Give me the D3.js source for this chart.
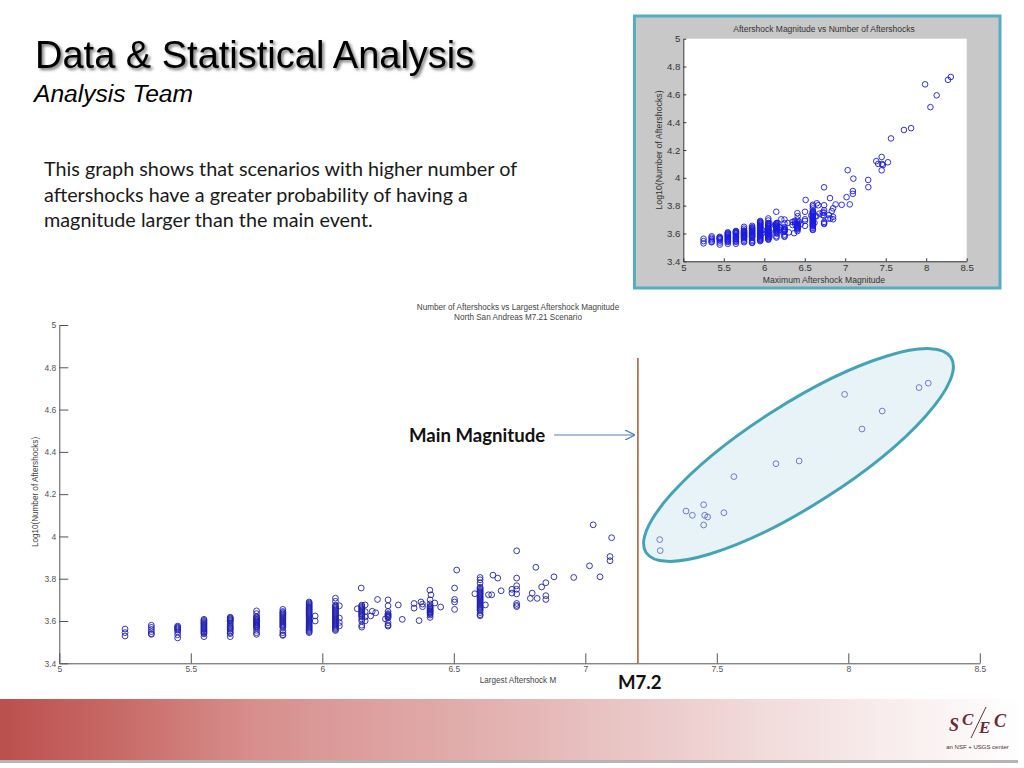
<!DOCTYPE html>
<html>
<head>
<meta charset="utf-8">
<title>Data & Statistical Analysis</title>
<script src="https://cdn.jsdelivr.net/npm/d3@7"></script>
<style>
html, body { margin: 0; padding: 0; background: #fff; overflow: hidden; }
svg { display: block; }
</style>
</head>
<body>
<script>
"use strict";
// columns of scenarios that share one rounded magnitude
var stack_magnitudes = [5.25, 5.35, 5.45, 5.55, 5.65, 5.75, 5.85, 5.95, 6.05, 6.15, 6.25, 6.41, 6.6];
var stack_log_counts = [
    [3.562, 3.545, 3.529],
    [3.58, 3.57, 3.56, 3.55, 3.54, 3.537],
    [3.576, 3.571, 3.567, 3.562, 3.557, 3.548, 3.535, 3.52],
    [3.608, 3.603, 3.598, 3.593, 3.589, 3.584, 3.579, 3.574, 3.569, 3.564, 3.559, 3.554, 3.549, 3.544, 3.539, 3.526],
    [3.618, 3.614, 3.61, 3.606, 3.602, 3.598, 3.59, 3.583, 3.575, 3.57, 3.565, 3.56, 3.553, 3.545, 3.54, 3.526],
    [3.648, 3.635, 3.622, 3.618, 3.613, 3.608, 3.604, 3.6, 3.596, 3.592, 3.588, 3.584, 3.58, 3.576, 3.572, 3.566, 3.556, 3.545, 3.537],
    [3.655, 3.645, 3.64, 3.635, 3.63, 3.625, 3.62, 3.615, 3.61, 3.605, 3.6, 3.595, 3.59, 3.585, 3.58, 3.575, 3.57, 3.555, 3.545, 3.535, 3.532],
    [3.69, 3.685, 3.68, 3.675, 3.67, 3.665, 3.66, 3.655, 3.65, 3.645, 3.64, 3.635, 3.63, 3.625, 3.62, 3.615, 3.61, 3.605, 3.6, 3.595, 3.59, 3.585, 3.58, 3.575, 3.57, 3.565, 3.56, 3.555, 3.55, 3.545],
    [3.708, 3.693, 3.675, 3.67, 3.665, 3.66, 3.655, 3.65, 3.645, 3.64, 3.635, 3.63, 3.625, 3.62, 3.615, 3.61, 3.605, 3.6, 3.595, 3.59, 3.585, 3.58, 3.575, 3.57, 3.565, 3.56, 3.555],
    [3.675, 3.67, 3.665, 3.66, 3.655, 3.65, 3.645, 3.64, 3.635, 3.63, 3.625, 3.62, 3.61, 3.6, 3.58, 3.571],
    [3.7, 3.672, 3.645, 3.635, 3.631, 3.627, 3.623, 3.619, 3.615, 3.592, 3.581, 3.576],
    [3.7, 3.681, 3.67, 3.666, 3.662, 3.658, 3.654, 3.65, 3.646, 3.642, 3.638, 3.634, 3.628, 3.617],
    [3.806, 3.795, 3.78, 3.76, 3.755, 3.75, 3.745, 3.74, 3.735, 3.73, 3.725, 3.72, 3.715, 3.71, 3.705, 3.7, 3.695, 3.69, 3.685, 3.68, 3.675, 3.67, 3.665, 3.66, 3.655, 3.65, 3.64, 3.63, 3.625]
];
// scenarios that sit away from the columns
var scatter_magnitudes = [
    5.973, 5.973, 6.065, 6.065, 6.065, 6.065, 6.133, 6.148, 6.163, 6.163, 6.163, 6.163,
    6.184, 6.19, 6.203, 6.21, 6.24, 6.289, 6.304, 6.349, 6.349, 6.368, 6.375, 6.381, 6.381,
    6.409, 6.413, 6.428, 6.45, 6.503, 6.503, 6.503, 6.503, 6.511, 6.58, 6.62, 6.632, 6.644,
    6.649, 6.667, 6.68, 6.721, 6.721, 6.739, 6.739, 6.739, 6.739, 6.739, 6.739, 6.739, 6.739,
    6.791, 6.798, 6.812, 6.817, 6.834, 6.85, 6.85, 6.85, 6.881, 6.956, 7.016, 7.03, 7.056,
    7.094, 7.094, 7.1, 7.283, 7.285, 7.383, 7.407, 7.45, 7.45, 7.454, 7.465, 7.527, 7.565,
    7.725, 7.813, 7.986, 8.052, 8.129, 8.269, 8.304
];
var scatter_log_counts = [
    3.624, 3.6, 3.672, 3.614, 3.593, 3.577, 3.658, 3.756, 3.676, 3.644, 3.62, 3.601,
    3.624, 3.646, 3.639, 3.702, 3.61, 3.676, 3.608, 3.683, 3.661, 3.602, 3.69, 3.68, 3.668,
    3.746, 3.724, 3.685, 3.666, 3.756, 3.702, 3.69, 3.655, 3.841, 3.729, 3.676, 3.724, 3.724,
    3.817, 3.803, 3.743, 3.75, 3.732, 3.932, 3.803, 3.767, 3.75, 3.728, 3.683, 3.674, 3.668,
    3.707, 3.732, 3.854, 3.707, 3.761, 3.781, 3.72, 3.702, 3.809, 3.806, 3.861, 4.055, 3.809,
    3.905, 3.885, 3.994, 3.985, 3.933, 4.12, 4.1, 4.15, 4.054, 4.1, 4.092, 4.112, 4.283,
    4.344, 4.357, 4.672, 4.508, 4.593, 4.704, 4.725
];
var x_ticks = [5, 5.5, 6, 6.5, 7, 7.5, 8, 8.5];
var y_ticks = [3.4, 3.6, 3.8, 4, 4.2, 4.4, 4.6, 4.8, 5];
var main_magnitude = 7.2;
var body_lines = [
    "This graph shows that scenarios with higher number of",
    "aftershocks have a greater probability of having a",
    "magnitude larger than the main event."
];

var points = [];
stack_magnitudes.forEach(function(m, i)
{
    stack_log_counts[i].forEach(function(v) { points.push([m, v]); });
});
scatter_magnitudes.forEach(function(m, i)
{
    points.push([m, scatter_log_counts[i]]);
});

var svg = d3.select("body").append("svg").attr("width", 1024).attr("height", 768);
var defs = svg.append("defs");

var title_shadow = defs.append("filter").attr("id", "title_shadow")
    .attr("x", "-5%").attr("y", "-20%").attr("width", "110%").attr("height", "150%");
title_shadow.append("feDropShadow").attr("dx", 2).attr("dy", 2).attr("stdDeviation", 1.5)
    .attr("flood-color", "#000").attr("flood-opacity", 0.55);

var band = defs.append("linearGradient").attr("id", "band");
[[0, "#bb504e"], [0.1, "#c66663"], [0.25, "#d78f8d"], [0.5, "#e3b4b3"], [0.75, "#f2dcdc"], [1, "#ffffff"]]
    .forEach(function(s)
    {
        band.append("stop").attr("offset", s[0]).attr("stop-color", s[1]);
    });

defs.append("marker").attr("id", "arrow_head")
    .attr("viewBox", "0 0 10 10").attr("refX", 10).attr("refY", 5)
    .attr("markerWidth", 10).attr("markerHeight", 10).attr("orient", "auto")
    .attr("markerUnits", "userSpaceOnUse")
    .append("path").attr("d", "M0,0 L10,5 L0,10")
    .attr("fill", "none").attr("stroke", "#4f81bd").attr("stroke-width", 1.3);

// slide heading and text
svg.append("text").attr("x", 35).attr("y", 68)
    .style("font", "38px 'Liberation Sans', Arial, sans-serif").attr("fill", "#000")
    .attr("filter", "url(#title_shadow)")
    .text("Data & Statistical Analysis");
svg.append("text").attr("x", 34).attr("y", 102)
    .style("font", "italic 24.6px 'Liberation Sans', Arial, sans-serif").attr("fill", "#000")
    .text("Analysis Team");
svg.append("g").selectAll("text")
    .data(body_lines)
    .enter()
    .append("text")
    .attr("x", 44)
    .attr("y", function(d, i) { return 176 + i * 25.7; })
    .style("font", "19.8px Lato, sans-serif")
    .attr("fill", "#1a1a1a")
    .text(function(d) { return d; });

function renderAxes(g, xscale, yscale, opts)
{
    var xaxis = d3.axisBottom(xscale).tickValues(x_ticks).tickFormat(d3.format("~g"))
        .tickSize(-opts.x_tick).tickSizeOuter(0).tickPadding(opts.pad_x);
    var yaxis = d3.axisLeft(yscale).tickValues(y_ticks).tickFormat(d3.format("~g"))
        .tickSize(-opts.y_tick).tickSizeOuter(0).tickPadding(opts.pad_y);
    var gx = g.append("g").attr("transform", "translate(0," + yscale.range()[0] + ")").call(xaxis);
    var gy = g.append("g").attr("transform", "translate(" + xscale.range()[0] + ",0)").call(yaxis);
    [gx, gy].forEach(function(a)
    {
        a.selectAll("path,line").attr("stroke", opts.line);
        a.selectAll("text").attr("fill", opts.text)
            .style("font", opts.font + "px 'Liberation Sans', Arial, sans-serif");
    });
}

function renderPoints(g, xscale, yscale, r, color, width)
{
    g.append("g").selectAll("circle")
        .data(points)
        .enter()
        .append("circle")
        .attr("cx", function(d) { return xscale(d[0]); })
        .attr("cy", function(d) { return yscale(d[1]); })
        .attr("r", r)
        .attr("fill", "none")
        .attr("stroke", color)
        .attr("stroke-width", width);
}

// inset matlab figure
var inset = svg.append("g");
inset.append("rect").attr("x", 634.5).attr("y", 16).attr("width", 365.5).attr("height", 272)
    .attr("fill", "#c8c8c8").attr("stroke", "#55aec6").attr("stroke-width", 3);
var inset_x = d3.scaleLinear().domain([5, 8.5]).range([683.3, 966.7]);
var inset_y = d3.scaleLinear().domain([3.4, 5]).range([261.3, 38.7]);
inset.append("rect").attr("x", inset_x(5)).attr("y", inset_y(5))
    .attr("width", inset_x(8.5) - inset_x(5)).attr("height", inset_y(3.4) - inset_y(5))
    .attr("fill", "#fff");
renderAxes(inset, inset_x, inset_y, { x_tick: 3, y_tick: 3, pad_x: 3, pad_y: 3, line: "#333", text: "#333", font: 9.6 });
renderPoints(inset, inset_x, inset_y, 2.8, "#1a1ae0", 0.9);
inset.append("text").attr("x", 824).attr("y", 32).attr("text-anchor", "middle")
    .style("font", "8.5px 'Liberation Sans', Arial, sans-serif").attr("fill", "#333")
    .text("Aftershock Magnitude vs Number of Aftershocks");
inset.append("text").attr("x", 824).attr("y", 283).attr("text-anchor", "middle")
    .style("font", "8.6px 'Liberation Sans', Arial, sans-serif").attr("fill", "#333")
    .text("Maximum Aftershock Magnitude");
inset.append("text").attr("transform", "translate(662,150) rotate(-90)").attr("text-anchor", "middle")
    .style("font", "8.8px 'Liberation Sans', Arial, sans-serif").attr("fill", "#333")
    .text("Log10(Number of Aftershocks)");

// main figure
var chart = svg.append("g");
var main_x = d3.scaleLinear().domain([5, 8.5]).range([59.3, 979.8]);
var main_y = d3.scaleLinear().domain([3.4, 5]).range([663.3, 325]);

chart.append("text").attr("x", 518).attr("y", 310).attr("text-anchor", "middle")
    .style("font", "8.15px 'Liberation Sans', Arial, sans-serif").attr("fill", "#444")
    .text("Number of Aftershocks vs Largest Aftershock Magnitude");
chart.append("text").attr("x", 518).attr("y", 320).attr("text-anchor", "middle")
    .style("font", "8.15px 'Liberation Sans', Arial, sans-serif").attr("fill", "#444")
    .text("North San Andreas M7.21 Scenario");
chart.append("text").attr("x", 518).attr("y", 683).attr("text-anchor", "middle")
    .style("font", "8.15px 'Liberation Sans', Arial, sans-serif").attr("fill", "#444")
    .text("Largest Aftershock M");
chart.append("text").attr("transform", "translate(38,492) rotate(-90)").attr("text-anchor", "middle")
    .style("font", "8.15px 'Liberation Sans', Arial, sans-serif").attr("fill", "#444")
    .text("Log10(Number of Aftershocks)");

renderAxes(chart, main_x, main_y, { x_tick: 10, y_tick: 9, pad_x: 3, pad_y: 3, line: "#555", text: "#555", font: 8.5 });
renderPoints(chart, main_x, main_y, 2.9, "#2020b0", 0.9);

// main shock marker
chart.append("line")
    .attr("x1", main_x(main_magnitude)).attr("x2", main_x(main_magnitude))
    .attr("y1", 358).attr("y2", main_y(3.4))
    .attr("stroke", "#a9643c").attr("stroke-width", 1.6);

// highlight ellipse over the points above the main magnitude
chart.append("ellipse")
    .attr("transform", "translate(798.5,455) rotate(-32.6)")
    .attr("rx", 181).attr("ry", 50.5)
    .attr("fill", "#c5e2ee").attr("fill-opacity", 0.4)
    .attr("stroke", "#45a3b8").attr("stroke-width", 3);

chart.append("line").attr("x1", 554).attr("x2", 635).attr("y1", 435).attr("y2", 435)
    .attr("stroke", "#4f81bd").attr("stroke-width", 1.1)
    .attr("marker-end", "url(#arrow_head)");
chart.append("text").attr("x", 409).attr("y", 442)
    .style("font", "bold 18.6px Lato, sans-serif").attr("fill", "#111")
    .text("Main Magnitude");
chart.append("text").attr("x", 618).attr("y", 689)
    .style("font", "bold 18.6px Lato, sans-serif").attr("fill", "#111")
    .text("M7.2");

// footer band and logo
svg.append("rect").attr("x", 0).attr("y", 760).attr("width", 1018).attr("height", 3).attr("fill", "#b5b5b5");
svg.append("rect").attr("x", 0).attr("y", 699).attr("width", 1024).attr("height", 61).attr("fill", "url(#band)");

var logo = svg.append("g").attr("fill", "#6b2a35").style("font-family", "'Liberation Serif', serif")
    .style("font-style", "italic").style("font-weight", "bold");
logo.append("text").attr("x", 949).attr("y", 731).style("font-size", "18px").text("S");
logo.append("text").attr("x", 962).attr("y", 725).style("font-size", "17px").text("C");
logo.append("text").attr("x", 979).attr("y", 733).style("font-size", "17px").text("E");
logo.append("text").attr("x", 994).attr("y", 727).style("font-size", "18px").text("C");
logo.append("line").attr("x1", 986).attr("y1", 707).attr("x2", 971).attr("y2", 738)
    .attr("stroke", "#6b2a35").attr("stroke-width", 1);
svg.append("text").attr("x", 977.5).attr("y", 749).attr("text-anchor", "middle")
    .style("font", "6px 'Liberation Sans', Arial, sans-serif").attr("fill", "#4a2a30")
    .text("an NSF + USGS center");
</script>
</body>
</html>
